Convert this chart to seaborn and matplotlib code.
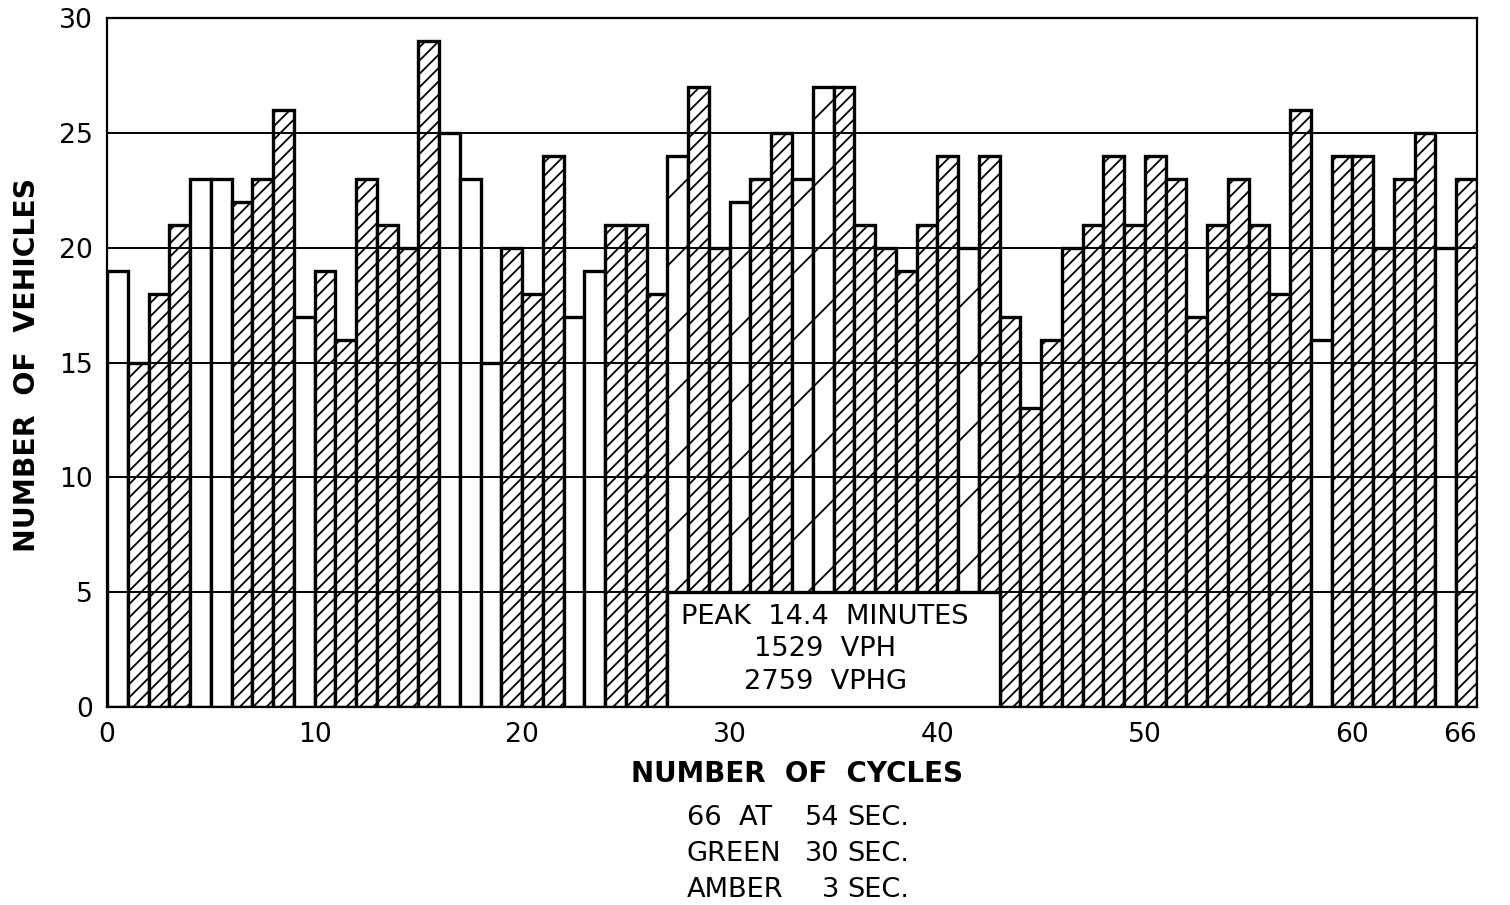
import numpy as np
import pandas as pd
import seaborn as sns
import matplotlib.pyplot as plt
from matplotlib.patches import Rectangle

# vehicles counted in each of the 66 signal cycles
vehicles = [19, 15, 18, 21, 23, 23, 22, 23, 26, 17,
            19, 16, 23, 21, 20, 29, 25, 23, 15, 20,
            18, 24, 17, 19, 21, 21, 18, 24, 27, 20,
            22, 23, 25, 23, 27, 27, 21, 20, 19, 21,
            24, 20, 24, 17, 13, 16, 20, 21, 24, 21,
            24, 23, 17, 21, 23, 21, 18, 26, 16, 24,
            24, 20, 23, 25, 20, 23]
# W = cycle not fully loaded, D = loaded cycle, S = unloaded cycle inside the peak
bar_kind = list("WDDDWWDDDW" "DDDDDDWWWD" "DDWWDDDSDD"
                "SDDSSDDDDD" "DSDDDDDDDD" "DDDDDDDDWD" "DDDDWD")
peak_start = 27
peak_cycles = 16
peak_lines = ["PEAK  14.4  MINUTES", "1529  VPH", "2759  VPHG"]
x_ticks = [0, 10, 20, 30, 40, 50, 60, 66]
y_ticks = [0, 5, 10, 15, 20, 25, 30]
note_left = ["66  AT", "GREEN", "AMBER"]
note_value = ["54", "30", "3"]

df = pd.DataFrame({"cycle": np.arange(1, len(vehicles) + 1),
                   "vehicles": vehicles, "kind": bar_kind})
df["mid"] = df["cycle"] - 0.5

sns.set_style("white")
plt.rcParams['font.family'] = ['DejaVu Sans']
plt.rcParams['text.color'] = 'black'
plt.rcParams['axes.labelcolor'] = 'black'
plt.rcParams['xtick.color'] = 'black'
plt.rcParams['ytick.color'] = 'black'
plt.rcParams['hatch.linewidth'] = 0.65
plt.rcParams['hatch.color'] = 'black'

W, H = 1510, 905
fig = plt.figure(figsize=(W / 200, H / 200), dpi=200, facecolor='white')
ax = fig.add_axes([107 / W, 1 - 707 / H, 1370 / W, 689 / H])

sns.barplot(data=df, x="mid", y="vehicles", native_scale=True, width=1,
            color='white', saturation=1, edgecolor='black', linewidth=1.2,
            errorbar=None, ax=ax)

hatches = {"W": "", "D": "/////", "S": "/"}
for patch, kind in zip(ax.patches, df["kind"]):
    patch.set_hatch(hatches[kind])

ax.set_xlim(0, 66)
ax.set_ylim(0, 30)
ax.set_xticks(x_ticks)
ax.set_yticks(y_ticks)
ax.tick_params(length=0, labelsize=9.6, colors='black')
ax.tick_params(axis='x', pad=5.5)
ax.tick_params(axis='y', pad=5)
ax.get_xticklabels()[-1].set_horizontalalignment('right')
ax.set_axisbelow(False)
ax.yaxis.grid(True, color='black', linewidth=0.7)
ax.xaxis.grid(False)
for sp in ax.spines.values():
    sp.set_color('black')
    sp.set_linewidth(0.8)

ax.set_xlabel("")
ax.set_ylabel("")

# peak summary box
ax.add_patch(Rectangle((peak_start, 0), peak_cycles, 5, facecolor='white',
                       edgecolor='black', linewidth=1.2, zorder=3))
ax.text(peak_start + peak_cycles / 2 - 0.4, 2.52, "\n".join(peak_lines),
        ha='center', va='center', fontsize=9.8, linespacing=1.33, zorder=4)

fig.text(797 / W, 1 - 774 / H, "NUMBER  OF  CYCLES", ha='center', va='center',
         fontsize=10, fontweight='bold')
fig.text(27 / W, 1 - 365 / H, "NUMBER  OF  VEHICLES", ha='center', va='center',
         rotation=90, fontsize=10.2, fontweight='bold')

for i, (lab, val) in enumerate(zip(note_left, note_value)):
    yy = 1 - (818 + 36 * i) / H
    fig.text(687 / W, yy, lab, ha='left', va='center', fontsize=9.8)
    fig.text(839 / W, yy, val, ha='right', va='center', fontsize=9.8)
    fig.text(847 / W, yy, "SEC.", ha='left', va='center', fontsize=9.8)

fig.savefig('out.png', dpi=200, facecolor='white')
